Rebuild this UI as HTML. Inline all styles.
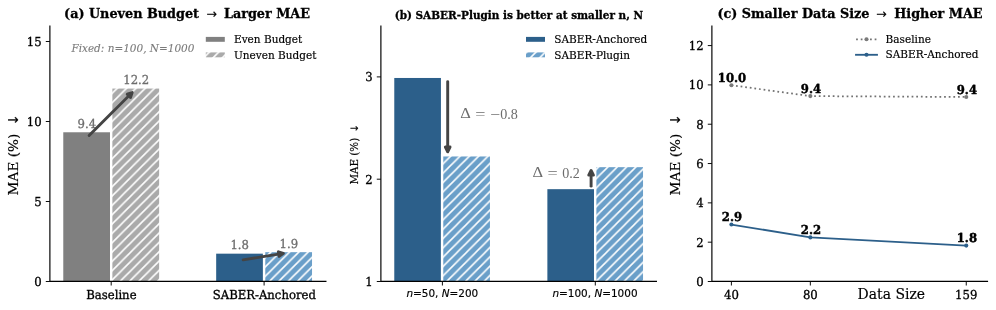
<!DOCTYPE html>
<html lang="en">
<head>
<meta charset="utf-8">
<title>SABER MAE comparison</title>
<style>
html,body{margin:0;padding:0;background:#fff;}
body{width:996px;height:310px;overflow:hidden;}
svg{display:block;}
text{font-family:"DejaVu Serif", "Liberation Serif", serif;fill:#000;stroke:#000;stroke-width:0.16px;}
.t{font-weight:bold;stroke-width:0.3px;}
.sans{font-family:"DejaVu Sans", "Liberation Sans", sans-serif;}
.math{font-family:"Liberation Serif", "DejaVu Serif", serif;fill:#6c6c6c;stroke:none;}
.lbl{fill:#6e6e6e;stroke:#6e6e6e;stroke-width:0.15px;}
</style>
</head>
<body>
<svg width="996" height="310" viewBox="0 0 996 310">
<defs>
<pattern id="hg" patternUnits="userSpaceOnUse" width="9.3333" height="9.3333" patternTransform="translate(9.50,0)"><rect width="9.4333" height="9.4333" fill="#aaaaaa"/><path d="M-2 11.3333 L11.3333 -2 M7.3333 11.3333 L11.3333 7.3333 M-2 2 L2 -2" stroke="#fff" stroke-width="1.55" fill="none"/></pattern>
<pattern id="hb" patternUnits="userSpaceOnUse" width="9.3333" height="9.3333" patternTransform="translate(9.50,0)"><rect width="9.4333" height="9.4333" fill="#6a9fc9"/><path d="M-2 11.3333 L11.3333 -2 M7.3333 11.3333 L11.3333 7.3333 M-2 2 L2 -2" stroke="#fff" stroke-width="1.55" fill="none"/></pattern>
</defs>
<rect width="996" height="310" fill="#fff"/>
<rect x="62.10" y="131.10" width="49.10" height="151.60" fill="#808080" stroke="#fff" stroke-width="2.34"/>
<rect x="111.20" y="87.40" width="49.10" height="195.30" fill="url(#hg)" stroke="#fff" stroke-width="2.34"/>
<rect x="215.00" y="252.50" width="49.10" height="30.20" fill="#2c5f8a" stroke="#fff" stroke-width="2.34"/>
<rect x="264.10" y="251.00" width="49.10" height="31.70" fill="url(#hb)" stroke="#fff" stroke-width="2.34"/>
<path d="M49.89 26.00 V281.40 H325.90" stroke="#000000" stroke-width="1.17" fill="none" stroke-linecap="square"/>
<path d="M49.89 281.50 h-4.1" stroke="#000000" stroke-width="0.95"/>
<text transform="translate(41.69,286.00) scale(1,1.058) rotate(0.03)" style="stroke-width:0.3px" font-size="11.67" text-anchor="end">0</text>
<path d="M49.89 201.50 h-4.1" stroke="#000000" stroke-width="0.95"/>
<text transform="translate(41.69,206.00) scale(1,1.058) rotate(0.03)" style="stroke-width:0.3px" font-size="11.67" text-anchor="end">5</text>
<path d="M49.89 121.50 h-4.1" stroke="#000000" stroke-width="0.95"/>
<text transform="translate(41.69,126.00) scale(1,1.058) rotate(0.03)" style="stroke-width:0.3px" font-size="11.67" text-anchor="end">10</text>
<path d="M49.89 41.50 h-4.1" stroke="#000000" stroke-width="0.95"/>
<text transform="translate(41.69,46.00) scale(1,1.058) rotate(0.03)" style="stroke-width:0.3px" font-size="11.67" text-anchor="end">15</text>
<path d="M111.20 281.40 v4.1" stroke="#000000" stroke-width="0.95"/>
<path d="M264.10 281.40 v4.1" stroke="#000000" stroke-width="0.95"/>
<text transform="translate(111.40,299.0) scale(1,1.058) rotate(0.03)" style="stroke-width:0.3px" font-size="11.67" text-anchor="middle">Baseline</text>
<text transform="translate(264.30,299.0) scale(1,1.058) rotate(0.03)" style="stroke-width:0.3px" font-size="11.67" text-anchor="middle">SABER-Anchored</text>
<text transform="translate(86.8,128.0) scale(1,1.058) rotate(0.03)" style="stroke-width:0.3px" class="lbl" font-size="11.67" text-anchor="middle">9.4</text>
<text transform="translate(136.2,84.0) scale(1,1.058) rotate(0.03)" style="stroke-width:0.3px" class="lbl" font-size="11.67" text-anchor="middle">12.2</text>
<text transform="translate(239.7,249.0) scale(1,1.058) rotate(0.03)" style="stroke-width:0.3px" class="lbl" font-size="11.67" text-anchor="middle">1.8</text>
<text transform="translate(288.8,248.0) scale(1,1.058) rotate(0.03)" style="stroke-width:0.3px" class="lbl" font-size="11.67" text-anchor="middle">1.9</text>
<path d="M89.13 135.57 L128.87 95.83" stroke="#444444" stroke-width="2.92" stroke-linecap="round" fill="none"/>
<path d="M132.17 92.53 L130.51 97.48 L127.22 94.19 Z" fill="#444444" stroke="#444444" stroke-width="2.92" stroke-linejoin="round"/>
<path d="M243.14 259.87 L278.75 254.08" stroke="#444444" stroke-width="2.92" stroke-linecap="round" fill="none"/>
<path d="M283.36 253.33 L279.12 256.38 L278.38 251.78 Z" fill="#444444" stroke="#444444" stroke-width="2.92" stroke-linejoin="round"/>
<text x="71.4" y="51.8" font-size="10.47" font-style="italic" style="fill:#7b7b7b;stroke:#7b7b7b;stroke-width:0.1px">Fixed: n=100, N=1000</text>
<rect x="205.8" y="36.9" width="19" height="4.9" fill="#808080"/>
<rect x="205.8" y="52.4" width="19" height="4.9" fill="url(#hg)"/>
<text x="234" y="42.6" font-size="10.50">Even Budget</text>
<text x="234" y="58.5" font-size="10.50">Uneven Budget</text>
<text class="t" x="64.1" y="18.2" font-size="12.8">(a) Uneven Budget</text>
<text class="sans" x="211.7" y="18.2" font-size="12.6" text-anchor="middle">→</text>
<text class="t" x="223.9" y="18.2" font-size="12.8">Larger MAE</text>
<text transform="translate(18.2,195.4) rotate(-90)" font-size="13.65">MAE (%)</text><text class="sans" transform="translate(18.0,125.4) rotate(-90)" font-size="13.6">↓</text>
<rect x="393.10" y="76.80" width="49.00" height="205.90" fill="#2c5f8a" stroke="#fff" stroke-width="2.34"/>
<rect x="442.10" y="155.30" width="49.00" height="127.40" fill="url(#hb)" stroke="#fff" stroke-width="2.34"/>
<rect x="546.20" y="188.00" width="49.00" height="94.70" fill="#2c5f8a" stroke="#fff" stroke-width="2.34"/>
<rect x="595.20" y="166.00" width="49.00" height="116.70" fill="url(#hb)" stroke="#fff" stroke-width="2.34"/>
<path d="M380.89 26.00 V281.40 H656.40" stroke="#000000" stroke-width="1.17" fill="none" stroke-linecap="square"/>
<path d="M380.89 281.50 h-4.1" stroke="#000000" stroke-width="0.95"/>
<text transform="translate(372.69,286.00) scale(1,1.058) rotate(0.03)" style="stroke-width:0.3px" font-size="11.67" text-anchor="end">1</text>
<path d="M380.89 179.20 h-4.1" stroke="#000000" stroke-width="0.95"/>
<text transform="translate(372.69,184.00) scale(1,1.058) rotate(0.03)" style="stroke-width:0.3px" font-size="11.67" text-anchor="end">2</text>
<path d="M380.89 76.90 h-4.1" stroke="#000000" stroke-width="0.95"/>
<text transform="translate(372.69,81.00) scale(1,1.058) rotate(0.03)" style="stroke-width:0.3px" font-size="11.67" text-anchor="end">3</text>
<path d="M442.40 281.40 v4.1" stroke="#000000" stroke-width="0.95"/>
<path d="M595.30 281.40 v4.1" stroke="#000000" stroke-width="0.95"/>
<text class="sans" x="442.30" y="297.4" font-size="10.45" text-anchor="middle"><tspan font-style="italic">n</tspan>=50, <tspan font-style="italic">N</tspan>=200</text>
<text class="sans" x="595.00" y="297.4" font-size="10.45" text-anchor="middle"><tspan font-style="italic">n</tspan>=100, <tspan font-style="italic">N</tspan>=1000</text>
<path d="M447.70 81.66 L447.70 147.07" stroke="#444444" stroke-width="2.92" stroke-linecap="round" fill="none"/>
<path d="M447.70 151.74 L445.37 147.07 L450.03 147.07 Z" fill="#444444" stroke="#444444" stroke-width="2.92" stroke-linejoin="round"/>
<path d="M591.10 186.14 L591.10 175.13" stroke="#444444" stroke-width="2.92" stroke-linecap="round" fill="none"/>
<path d="M591.10 170.46 L593.43 175.13 L588.77 175.13 Z" fill="#444444" stroke="#444444" stroke-width="2.92" stroke-linejoin="round"/>
<text class="math" x="460.30" y="118.20" font-size="14.50" textLength="10.60" lengthAdjust="spacingAndGlyphs">Δ</text>
<text class="math" x="475.20" y="119.40" font-size="14.50" textLength="10.20" lengthAdjust="spacingAndGlyphs">=</text>
<text class="math" x="489.90" y="119.40" font-size="14.50" textLength="10.00" lengthAdjust="spacingAndGlyphs">−</text>
<text class="math" x="500.20" y="119.00" font-size="14.50" textLength="17.60" lengthAdjust="spacingAndGlyphs">0.8</text>
<text class="math" x="532.60" y="177.10" font-size="14.50" textLength="10.60" lengthAdjust="spacingAndGlyphs">Δ</text>
<text class="math" x="547.50" y="178.30" font-size="14.50" textLength="10.20" lengthAdjust="spacingAndGlyphs">=</text>
<text class="math" x="562.20" y="177.90" font-size="14.50" textLength="17.60" lengthAdjust="spacingAndGlyphs">0.2</text>
<rect x="526.0" y="36.9" width="19" height="4.9" fill="#2c5f8a"/>
<rect x="526.0" y="52.4" width="19" height="4.9" fill="url(#hb)"/>
<text x="554.3" y="42.6" font-size="10.50">SABER-Anchored</text>
<text x="554.3" y="58.5" font-size="10.50">SABER-Plugin</text>
<text class="t" x="518.9" y="18.9" font-size="10.46" text-anchor="middle">(b) SABER-Plugin is better at smaller n, N</text>
<text transform="translate(358.2,184.6) rotate(-90)" font-size="10.35">MAE (%)</text><text class="sans" transform="translate(358.1,132.7) rotate(-90)" font-size="10.3">↓</text>
<polyline points="731.40,85.20 810.34,96.10 966.25,97.00" fill="none" stroke="#727272" stroke-width="1.75" stroke-dasharray="1.75 2.89"/>
<circle cx="731.40" cy="85.20" r="2.05" fill="#7a7a7a"/>
<circle cx="810.34" cy="96.10" r="2.05" fill="#7a7a7a"/>
<circle cx="966.25" cy="97.00" r="2.05" fill="#7a7a7a"/>
<polyline points="731.40,224.55 810.34,237.40 966.25,245.60" fill="none" stroke="#2c5f8a" stroke-width="1.85" stroke-linejoin="round"/>
<circle cx="731.40" cy="224.55" r="2.05" fill="#2c5f8a"/>
<circle cx="810.34" cy="237.40" r="2.05" fill="#2c5f8a"/>
<circle cx="966.25" cy="245.60" r="2.05" fill="#2c5f8a"/>
<text transform="translate(732.00,82.00) scale(1,1.058) rotate(0.03)" style="stroke-width:0.42px" class="t" font-size="11.67" text-anchor="middle">10.0</text>
<text transform="translate(810.94,93.00) scale(1,1.058) rotate(0.03)" style="stroke-width:0.42px" class="t" font-size="11.67" text-anchor="middle">9.4</text>
<text transform="translate(966.85,94.00) scale(1,1.058) rotate(0.03)" style="stroke-width:0.42px" class="t" font-size="11.67" text-anchor="middle">9.4</text>
<text transform="translate(732.00,221.00) scale(1,1.058) rotate(0.03)" style="stroke-width:0.42px" class="t" font-size="11.67" text-anchor="middle">2.9</text>
<text transform="translate(810.94,234.00) scale(1,1.058) rotate(0.03)" style="stroke-width:0.42px" class="t" font-size="11.67" text-anchor="middle">2.2</text>
<text transform="translate(966.85,242.00) scale(1,1.058) rotate(0.03)" style="stroke-width:0.42px" class="t" font-size="11.67" text-anchor="middle">1.8</text>
<path d="M711.89 26.00 V281.40 H987.50" stroke="#000000" stroke-width="1.17" fill="none" stroke-linecap="square"/>
<path d="M711.89 281.50 h-4.1" stroke="#000000" stroke-width="0.95"/>
<text transform="translate(703.69,286.00) scale(1,1.058) rotate(0.03)" style="stroke-width:0.3px" font-size="11.67" text-anchor="end">0</text>
<path d="M711.89 242.18 h-4.1" stroke="#000000" stroke-width="0.95"/>
<text transform="translate(703.69,247.00) scale(1,1.058) rotate(0.03)" style="stroke-width:0.3px" font-size="11.67" text-anchor="end">2</text>
<path d="M711.89 202.86 h-4.1" stroke="#000000" stroke-width="0.95"/>
<text transform="translate(703.69,207.00) scale(1,1.058) rotate(0.03)" style="stroke-width:0.3px" font-size="11.67" text-anchor="end">4</text>
<path d="M711.89 163.54 h-4.1" stroke="#000000" stroke-width="0.95"/>
<text transform="translate(703.69,168.00) scale(1,1.058) rotate(0.03)" style="stroke-width:0.3px" font-size="11.67" text-anchor="end">6</text>
<path d="M711.89 124.22 h-4.1" stroke="#000000" stroke-width="0.95"/>
<text transform="translate(703.69,129.00) scale(1,1.058) rotate(0.03)" style="stroke-width:0.3px" font-size="11.67" text-anchor="end">8</text>
<path d="M711.89 84.90 h-4.1" stroke="#000000" stroke-width="0.95"/>
<text transform="translate(703.69,89.00) scale(1,1.058) rotate(0.03)" style="stroke-width:0.3px" font-size="11.67" text-anchor="end">10</text>
<path d="M711.89 45.58 h-4.1" stroke="#000000" stroke-width="0.95"/>
<text transform="translate(703.69,50.00) scale(1,1.058) rotate(0.03)" style="stroke-width:0.3px" font-size="11.67" text-anchor="end">12</text>
<path d="M731.40 281.40 v4.1" stroke="#000000" stroke-width="0.95"/>
<text transform="translate(731.40,299.0) scale(1,1.058) rotate(0.03)" style="stroke-width:0.3px" font-size="11.67" text-anchor="middle">40</text>
<path d="M810.34 281.40 v4.1" stroke="#000000" stroke-width="0.95"/>
<text transform="translate(810.34,299.0) scale(1,1.058) rotate(0.03)" style="stroke-width:0.3px" font-size="11.67" text-anchor="middle">80</text>
<path d="M966.25 281.40 v4.1" stroke="#000000" stroke-width="0.95"/>
<text transform="translate(966.25,299.0) scale(1,1.058) rotate(0.03)" style="stroke-width:0.3px" font-size="11.67" text-anchor="middle">159</text>
<text x="891.3" y="298.7" font-size="13.95" text-anchor="middle">Data Size</text>
<path d="M856.1 39.3 h21" stroke="#727272" stroke-width="1.75" stroke-dasharray="1.75 2.89" fill="none"/><circle cx="866.5" cy="39.3" r="2.05" fill="#7a7a7a"/>
<path d="M856 54.8 h21" stroke="#2c5f8a" stroke-width="1.85" stroke-linecap="square" fill="none"/><circle cx="866.5" cy="54.8" r="2.05" fill="#2c5f8a"/>
<text x="885.6" y="42.7" font-size="10.50">Baseline</text>
<text x="885.6" y="58.4" font-size="10.50">SABER-Anchored</text>
<text class="t" x="717.4" y="18.2" font-size="12.8">(c) Smaller Data Size</text>
<text class="sans" x="881.5" y="18.2" font-size="12.6" text-anchor="middle">→</text>
<text class="t" x="894.2" y="18.2" font-size="12.8">Higher MAE</text>
<text transform="translate(680.0,195.4) rotate(-90)" font-size="13.65">MAE (%)</text><text class="sans" transform="translate(680.0,125.4) rotate(-90)" font-size="13.6">↓</text>
</svg>
</body>
</html>
